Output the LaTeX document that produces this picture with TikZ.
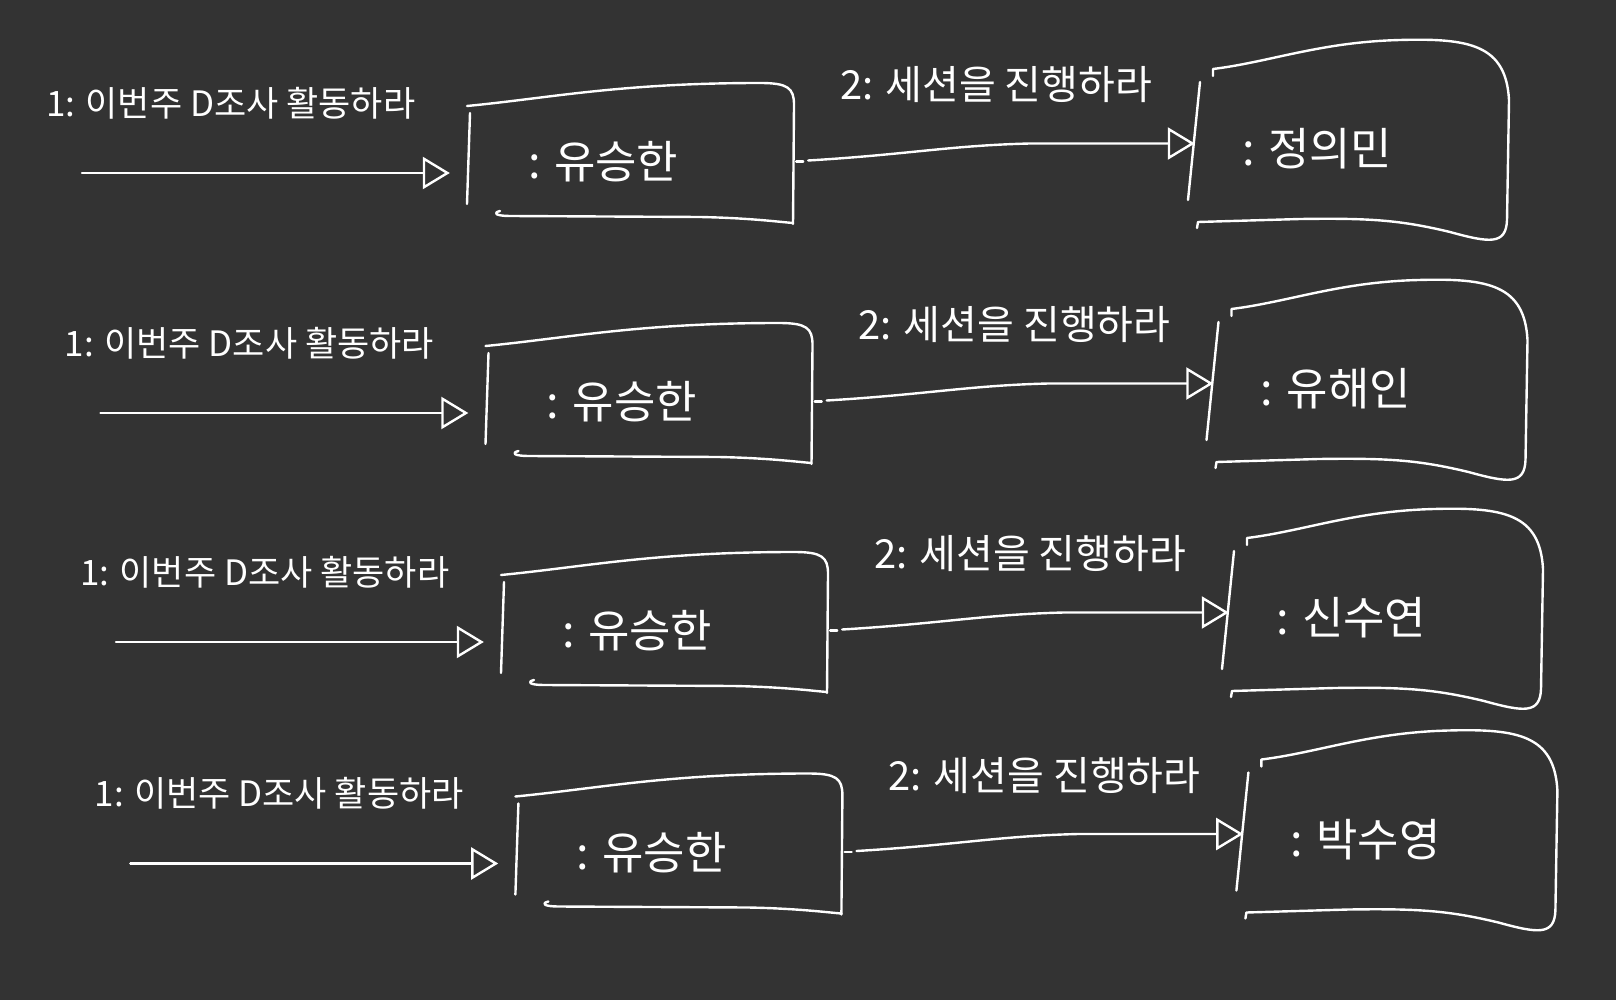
\documentclass[tikz,border=0pt]{standalone}
\usepackage{fontspec}
\setmainfont{Noto Sans CJK KR}
\usetikzlibrary{arrows.meta}
\definecolor{bg}{HTML}{333333}
\begin{document}
\begin{tikzpicture}[x=1pt,y=-1pt,
  ink/.style={draw=white, line width=2.4pt, line cap=round, line join=round},
  arr/.style={ink, -{Triangle[open,length=27pt,width=32pt]}},
  msg/.style={text=white, inner sep=0pt, anchor=west},
  lab1/.style={msg, font=\fontsize{35}{42}\selectfont},
  lab2/.style={msg, font=\fontsize{40}{48}\selectfont},
  nm/.style={msg, font=\fontsize{45}{54}\selectfont},
  hold/.style={draw=none, inner sep=0pt, minimum width=#1},
]
\fill[bg] (0,0) rectangle (1616,1000);
\useasboundingbox (0,0) rectangle (1616,1000);
\foreach \i/\dx/\dy/\who in {1/0/0/정의민, 2/18.5/240/유해인, 3/34/469/신수연, 4/48.4/690.5/박수영}{
  \begin{scope}[shift={(\dx,\dy)}]
    % invisible frames
    \node[hold=329pt, minimum height=137pt] (b\i) at (631.5,153.5) {};
    \node[hold=323pt, minimum height=203pt] (c\i) at (1351.5,140.5) {};
    \coordinate (s\i) at (82,173);
    % labels
    \node[lab1] (m\i) at (46,103) {1: 이번주 D조사 활동하라};
    \node[lab2] (n\i) at (840,85) {2: 세션을 진행하라};
    \node[nm] (t\i) at (528,162) {: 유승한};
    \node[nm] (u\i) at (1242,149) {: \who};
    % box 1 outline (hand drawn)
    \draw[ink] (470,113) -- (467,204);
    \draw[ink] (467,106) .. controls (550,98) and (620,83) .. (760,83)
      .. controls (788,83) and (794,88) .. (794,105) -- (793,224);
    \draw[ink] (500,211) .. controls (492,213) and (496,216) .. (510,216)
      -- (700,217) .. controls (750,218) and (780,222) .. (793,223);
    % box 2 outline (hand drawn)
    \draw[ink] (1200,82) -- (1188,200);
    \draw[ink] (1213,76) -- (1213,69) .. controls (1270,62) and (1320,42) .. (1400,40)
      .. controls (1470,38) and (1506,45) .. (1509,100) -- (1507,220)
      .. controls (1506,245) and (1490,243) .. (1450,232)
      .. controls (1400,220) and (1370,218) .. (1300,219) -- (1198,222) -- (1197,228);
    % connectors
    \draw[arr, shorten >=17pt] (s\i) -- (s\i -| b\i.west);
    \draw[ink] ([yshift=-8pt]b\i.east) -- ([xshift=7pt,yshift=-8pt]b\i.east);
    \draw[arr] ([xshift=12pt,yshift=-7pt]b\i.east) .. controls +(100,-6) and +(-80,2) .. ([xshift=-160pt,yshift=-3pt]c\i.west) -- ([xshift=5pt,yshift=-3pt]c\i.west);
  \end{scope}
}
\end{tikzpicture}
\end{document}
